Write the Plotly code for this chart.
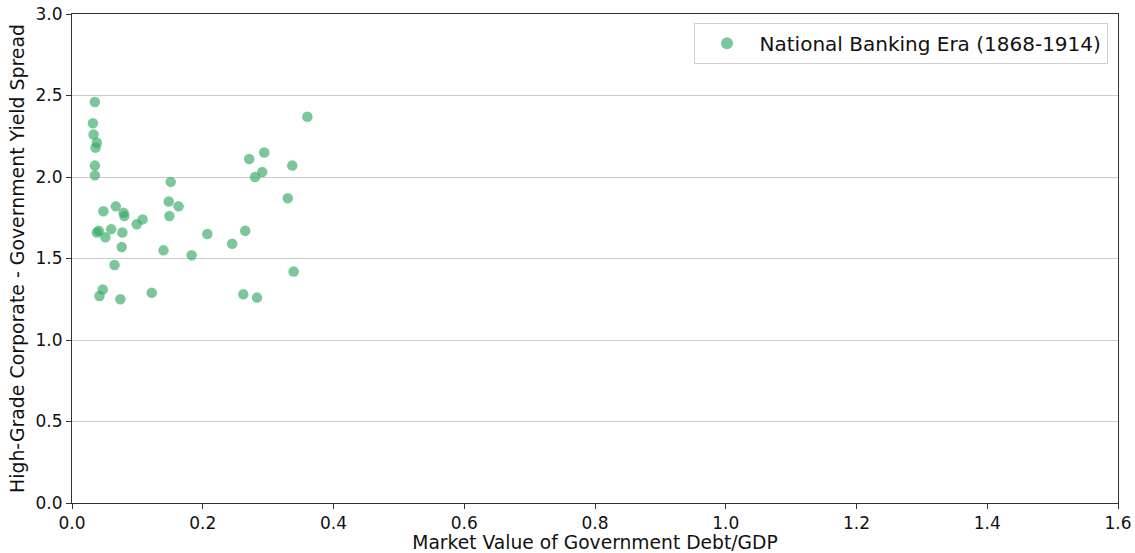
import plotly.graph_objects as go

debt_gdp = [0.035, 0.032, 0.033, 0.038, 0.036, 0.035, 0.035, 0.048, 0.067, 0.079, 0.080,
            0.099, 0.108, 0.038, 0.041, 0.051, 0.060, 0.077, 0.076, 0.065, 0.047, 0.042,
            0.074, 0.122, 0.151, 0.148, 0.149, 0.163, 0.140, 0.183, 0.207, 0.245, 0.265,
            0.262, 0.283, 0.271, 0.294, 0.280, 0.291, 0.330, 0.337, 0.339, 0.360]
spread = [2.46, 2.33, 2.26, 2.21, 2.18, 2.07, 2.01, 1.79, 1.82, 1.78, 1.76,
          1.71, 1.74, 1.66, 1.67, 1.63, 1.68, 1.66, 1.57, 1.46, 1.31, 1.27,
          1.25, 1.29, 1.97, 1.85, 1.76, 1.82, 1.55, 1.52, 1.65, 1.59, 1.67,
          1.28, 1.26, 2.11, 2.15, 2.00, 2.03, 1.87, 2.07, 1.42, 2.37]
x_ticks = [0.0, 0.2, 0.4, 0.6, 0.8, 1.0, 1.2, 1.4, 1.6]
y_ticks = [0.0, 0.5, 1.0, 1.5, 2.0, 2.5, 3.0]

fig = go.Figure()
fig.add_trace(go.Scatter(
    x=debt_gdp, y=spread, mode="markers",
    name="National Banking Era (1868-1914)",
    marker=dict(size=10.5, color="rgba(55,170,100,0.66)", line=dict(width=0)),
))

font = "DejaVu Sans, Liberation Sans, sans-serif"
fig.update_layout(
    width=1135, height=553,
    margin=dict(l=72, r=17, t=14, b=50),
    paper_bgcolor="white", plot_bgcolor="white",
    font=dict(family=font, size=17, color="#111111"),
    showlegend=True,
    legend=dict(x=0.99, y=0.982, xanchor="right", yanchor="top",
                bgcolor="white", bordercolor="#d0d0d0", borderwidth=1,
                font=dict(size=20), itemsizing="constant", itemwidth=55),
    xaxis=dict(range=[0, 1.6], tickvals=x_ticks, ticktext=[f"{v:.1f}" for v in x_ticks],
               showgrid=False, zeroline=False, showline=True, linecolor="#333", linewidth=1,
               mirror=True, ticks="outside", ticklen=5, tickcolor="#333", automargin=False,
               title=dict(text="Market Value of Government Debt/GDP", standoff=7,
                          font=dict(size=18.7))),
    yaxis=dict(range=[0, 3.0], tickvals=y_ticks, ticktext=[f"{v:.1f}" for v in y_ticks],
               showgrid=True, gridcolor="#cccccc", gridwidth=1, zeroline=False,
               showline=True, linecolor="#333", linewidth=1, mirror=True, automargin=False,
               ticks="outside", ticklen=5, tickcolor="#333",
               title=dict(text="High-Grade Corporate - Government Yield Spread", standoff=5,
                          font=dict(size=18.9))),
)
fig.write_html("out.html", config={"displayModeBar": False},
               post_script="document.body.style.margin='0px';")
